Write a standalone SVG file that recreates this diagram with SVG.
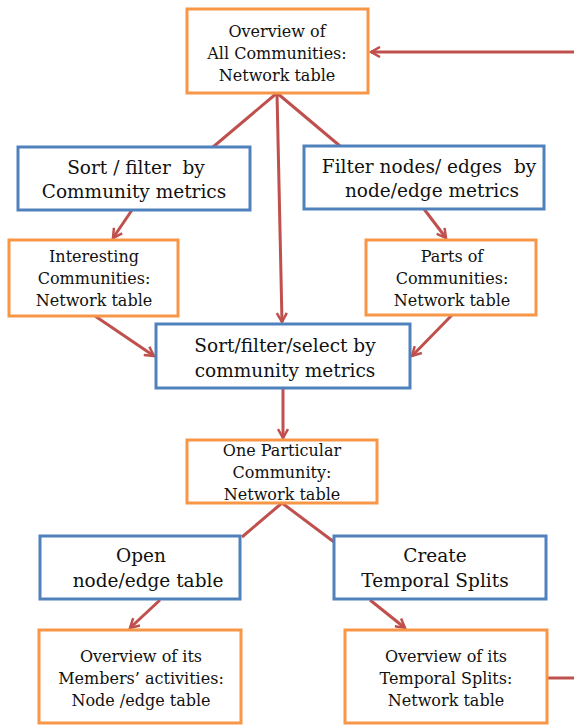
<svg xmlns="http://www.w3.org/2000/svg" width="574" height="725" viewBox="0 0 574 725">
<style>
.o{fill:#fff;stroke:#F79646;stroke-width:3}
.b{fill:#fff;stroke:#4F81BD;stroke-width:3}
.s{font-family:'DejaVu Serif',serif;font-size:16px;fill:#111;text-anchor:middle}
.l{font-family:'DejaVu Serif',serif;font-size:18.5px;fill:#111;text-anchor:middle;white-space:pre}
.c{stroke:#C0504D;stroke-width:3;fill:none}
</style>
<defs>
<marker id="a" viewBox="0 0 12 12" refX="10" refY="6" markerWidth="12" markerHeight="12" markerUnits="userSpaceOnUse" orient="auto">
<path d="M1,1 L10,6 L1,11" fill="none" stroke="#C0504D" stroke-width="2.5"/>
</marker>
</defs>
<rect width="574" height="725" fill="#fff"/>
<g id="connectors">
<line class="c" x1="574" y1="52" x2="371" y2="52" marker-end="url(#a)"/>
<line class="c" x1="547" y1="678" x2="574" y2="678"/>
<line class="c" x1="277" y1="93" x2="213" y2="147"/>
<line class="c" x1="277" y1="93" x2="340" y2="146"/>
<line class="c" x1="277" y1="93" x2="282" y2="322" marker-end="url(#a)"/>
<line class="c" x1="132" y1="210" x2="113" y2="238" marker-end="url(#a)"/>
<line class="c" x1="424" y1="209" x2="446" y2="238" marker-end="url(#a)"/>
<line class="c" x1="95" y1="316" x2="154" y2="356" marker-end="url(#a)"/>
<line class="c" x1="452" y1="315" x2="412" y2="356" marker-end="url(#a)"/>
<line class="c" x1="283" y1="388" x2="283" y2="438" marker-end="url(#a)"/>
<line class="c" x1="282" y1="503" x2="242" y2="537"/>
<line class="c" x1="282" y1="503" x2="334" y2="542"/>
<line class="c" x1="160" y1="600" x2="130" y2="628" marker-end="url(#a)"/>
<line class="c" x1="370" y1="600" x2="405" y2="628" marker-end="url(#a)"/>
</g>
<g id="n1"><rect class="o" x="187" y="9" width="181" height="84"/>
<text class="s" x="277" y="37">Overview of</text><text class="s" x="277" y="59">All Communities:</text><text class="s" x="277" y="81">Network table</text></g>
<g id="n2"><rect class="b" x="18" y="147" width="232" height="63"/>
<text class="l" x="136" y="174" xml:space="preserve">Sort / filter  by</text><text class="l" x="134" y="198">Community metrics</text></g>
<g id="n3"><rect class="b" x="304" y="146" width="240" height="63"/>
<text class="l" x="429" y="173" xml:space="preserve">Filter nodes/ edges  by</text><text class="l" x="432" y="197">node/edge metrics</text></g>
<g id="n4"><rect class="o" x="9" y="240" width="169" height="76"/>
<text class="s" x="94" y="262">Interesting</text><text class="s" x="94" y="284">Communities:</text><text class="s" x="94" y="306">Network table</text></g>
<g id="n5"><rect class="o" x="366" y="240" width="170" height="75"/>
<text class="s" x="452" y="262">Parts of</text><text class="s" x="452" y="284">Communities:</text><text class="s" x="452" y="306">Network table</text></g>
<g id="n6"><rect class="b" x="156" y="324" width="254" height="64"/>
<text class="l" x="285" y="352">Sort/filter/select by</text><text class="l" x="285" y="377">community metrics</text></g>
<g id="n7"><rect class="o" x="187" y="440" width="190" height="63"/>
<text class="s" x="282" y="456">One Particular</text><text class="s" x="282" y="478">Community:</text><text class="s" x="282" y="500">Network table</text></g>
<g id="n8"><rect class="b" x="40" y="536" width="200" height="63"/>
<text class="l" x="141" y="562">Open</text><text class="l" x="148" y="587">node/edge table</text></g>
<g id="n9"><rect class="b" x="334" y="536" width="212" height="63"/>
<text class="l" x="435" y="562">Create</text><text class="l" x="435" y="587">Temporal Splits</text></g>
<g id="n10"><rect class="o" x="39" y="630" width="202" height="93"/>
<text class="s" x="141" y="662">Overview of its</text><text class="s" x="141" y="684">Members’ activities:</text><text class="s" x="141" y="706">Node /edge table</text></g>
<g id="n11"><rect class="o" x="345" y="630" width="202" height="93"/>
<text class="s" x="446" y="662">Overview of its</text><text class="s" x="446" y="684">Temporal Splits:</text><text class="s" x="446" y="706">Network table</text></g>
</svg>
